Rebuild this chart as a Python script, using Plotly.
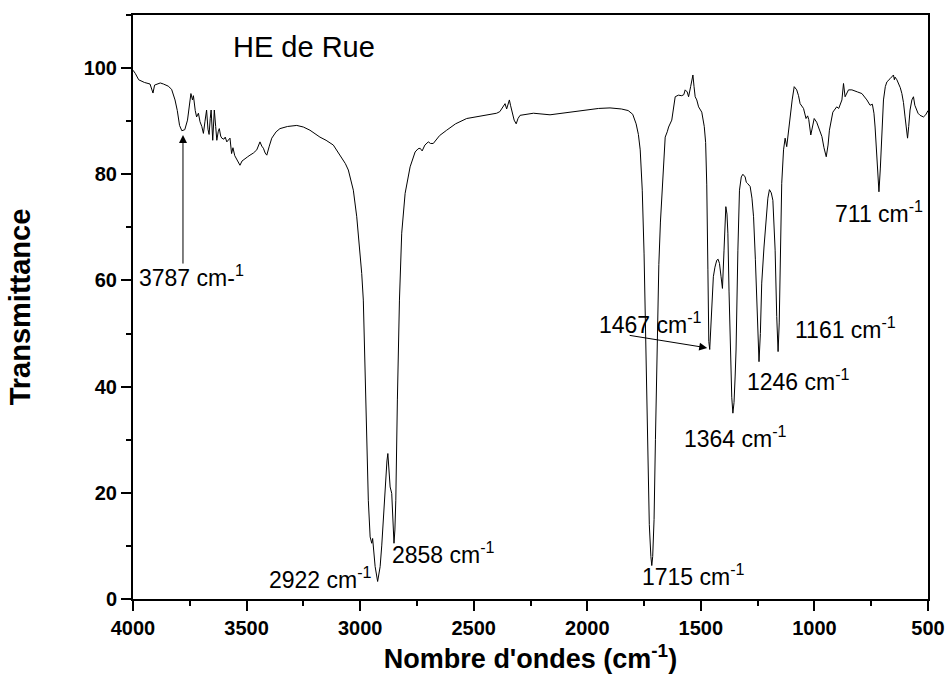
import plotly.graph_objects as go

# ---- data ----
wavenumber = [4000, 3990, 3975, 3950, 3925, 3912, 3905, 3880, 3866, 3845, 3830, 3815, 3805, 3795, 3785, 3772,
              3760, 3750, 3745, 3738, 3734, 3726, 3720, 3712, 3705, 3697, 3690, 3683, 3676, 3670, 3665, 3660,
              3656, 3649, 3642, 3636, 3631, 3625, 3620, 3614, 3609, 3600, 3594, 3587, 3580, 3573, 3566, 3560,
              3552, 3543, 3535, 3529, 3520, 3507, 3495, 3485, 3470, 3455, 3441, 3433, 3426, 3418, 3411, 3400,
              3389, 3370, 3353, 3320, 3279, 3250, 3221, 3177, 3150, 3118, 3089, 3065, 3052, 3040, 3030, 3015,
              3001, 2993, 2986, 2978, 2971, 2964, 2956, 2949, 2945, 2940, 2934, 2923, 2912, 2905, 2898, 2890,
              2882, 2878, 2872, 2868, 2861, 2856, 2851, 2847, 2843, 2836, 2827, 2817, 2802, 2780, 2758, 2745,
              2736, 2727, 2715, 2700, 2690, 2678, 2650, 2619, 2580, 2531, 2458, 2399, 2385, 2377, 2368, 2362,
              2355, 2348, 2343, 2338, 2332, 2322, 2313, 2305, 2296, 2237, 2164, 2100, 2000, 1950, 1900, 1850,
              1820, 1800, 1785, 1775, 1767, 1758, 1750, 1742, 1735, 1727, 1720, 1716, 1712, 1706, 1700, 1693,
              1685, 1678, 1672, 1665, 1657, 1648, 1642, 1628, 1613, 1599, 1584, 1575, 1569, 1560, 1554, 1545,
              1535, 1530, 1525, 1518, 1510, 1496, 1485, 1479, 1474, 1469, 1465, 1461, 1457, 1452, 1445, 1438,
              1430, 1424, 1418, 1411, 1405, 1398, 1390, 1385, 1381, 1376, 1371, 1364, 1359, 1354, 1349, 1345,
              1337, 1330, 1322, 1315, 1305, 1300, 1295, 1283, 1275, 1268, 1260, 1254, 1248, 1244, 1238, 1232,
              1222, 1213, 1205, 1198, 1190, 1183, 1178, 1173, 1166, 1160, 1155, 1151, 1144, 1136, 1129, 1122,
              1115, 1107, 1098, 1089, 1078, 1070, 1063, 1048, 1037, 1030, 1025, 1016, 1008, 1001, 990, 982,
              967, 958, 948, 940, 934, 919, 902, 893, 885, 879, 872, 865, 850, 835, 810, 791,
              769, 755, 745, 738, 733, 725, 716, 710, 707, 702, 696, 688, 681, 667, 660, 652,
              648, 645, 637, 630, 622, 615, 608, 601, 595, 590, 585, 579, 571, 564, 558, 553,
              544, 535, 520, 510, 503, 500]
transmittance = [99.6, 99.0, 97.8, 97.3, 97.0, 95.3, 96.8, 97.2, 97.0, 96.6, 96.0, 94.0, 92.0, 89.2, 88.2, 88.4,
                 90.2, 93.5, 95.2, 94.0, 94.8, 92.0, 90.8, 91.5, 89.9, 89.0, 87.7, 90.0, 92.1, 88.5, 87.5, 90.5,
                 92.1, 86.4, 92.1, 89.0, 86.4, 88.0, 88.6, 87.2, 86.8, 86.6, 87.0, 86.1, 86.5, 86.8, 83.9, 85.0,
                 83.5, 82.7, 82.0, 81.7, 82.5, 83.0, 83.3, 83.6, 84.0, 84.6, 86.1, 85.3, 84.9, 84.0, 83.6, 85.3,
                 86.8, 88.0, 88.6, 89.0, 89.2, 88.9, 88.3, 87.0, 86.4, 85.5, 83.6, 82.0, 80.8, 79.0, 77.0, 72.0,
                 65.7, 61.3, 56.3, 43.7, 31.2, 18.6, 11.7, 10.5, 11.4, 8.5, 6.1, 3.3, 6.1, 10.0, 15.5, 21.0,
                 26.0, 27.4, 24.0, 21.1, 19.9, 13.5, 10.5, 13.0, 18.6, 37.5, 56.3, 68.9, 76.4, 81.4, 84.2, 84.8,
                 84.9, 84.4, 85.5, 86.1, 85.8, 85.8, 87.3, 88.3, 89.5, 90.5, 91.1, 91.5, 91.8, 92.4, 93.0, 93.3,
                 92.3, 93.4, 94.0, 93.0, 91.8, 90.2, 89.5, 90.5, 91.1, 91.5, 91.2, 91.6, 92.2, 92.4, 92.5, 92.3,
                 92.0, 91.3, 89.5, 87.5, 84.6, 77.0, 65.0, 45.0, 28.0, 14.0, 8.0, 6.3, 8.0, 15.0, 30.0, 48.0,
                 63.0, 71.0, 75.1, 82.0, 87.0, 88.0, 88.9, 90.2, 94.6, 94.9, 94.8, 95.0, 95.9, 95.5, 94.6, 96.5,
                 98.7, 96.5, 94.6, 94.0, 92.7, 91.7, 89.0, 86.0, 78.0, 62.0, 48.5, 47.0, 50.0, 56.3, 60.7, 62.5,
                 63.8, 64.0, 63.2, 60.7, 58.5, 65.7, 73.9, 72.5, 68.9, 58.0, 46.9, 38.0, 35.0, 37.0, 42.0, 46.9,
                 65.7, 77.0, 79.5, 80.0, 79.5, 78.5, 78.3, 77.7, 75.5, 72.0, 64.0, 56.3, 48.0, 44.7, 50.0, 59.5,
                 66.3, 72.0, 75.5, 77.1, 76.5, 75.1, 71.0, 65.7, 53.2, 46.6, 52.0, 59.5, 78.3, 84.6, 86.8, 85.2,
                 88.0, 90.8, 94.0, 96.5, 95.9, 94.8, 93.3, 92.4, 90.5, 91.0, 90.3, 87.4, 89.5, 90.5, 89.8, 88.9,
                 87.1, 85.0, 83.3, 85.5, 88.3, 91.7, 92.7, 92.4, 93.5, 94.0, 97.1, 94.6, 95.9, 95.9, 95.5, 95.2,
                 94.0, 93.0, 93.2, 91.5, 88.9, 83.3, 76.7, 81.0, 84.6, 90.0, 94.0, 96.5, 97.4, 98.0, 98.3, 98.7,
                 97.8, 98.3, 97.8, 97.1, 96.3, 95.2, 93.5, 90.8, 88.5, 86.8, 89.0, 92.1, 94.0, 94.6, 93.0, 92.4,
                 91.5, 91.1, 90.8, 91.2, 91.7, 92.0]

x_ticks = [4000, 3500, 3000, 2500, 2000, 1500, 1000, 500]
y_ticks = [0, 20, 40, 60, 80, 100]

title_text = "HE de Rue"
peak_labels = ["3787 cm-<sup>1</sup>", "2922 cm<sup>-1</sup>", "2858 cm<sup>-1</sup>", "1715 cm<sup>-1</sup>",
               "1467 cm<sup>-1</sup>", "1364 cm<sup>-1</sup>", "1246 cm<sup>-1</sup>", "1161 cm<sup>-1</sup>",
               "711 cm<sup>-1</sup>"]
label_x = [3982, 2939, 2868, 1767, 1957, 1583, 1305, 1094, 918]
label_y = [60.8, 4.0, 8.7, 4.5, 52.0, 30.5, 41.2, 51.0, 72.9]
label_anchor = ["left", "right", "left", "left", "left", "left", "left", "left", "left"]

FONT = "Arial, 'Liberation Sans', sans-serif"

fig = go.Figure()
fig.add_trace(go.Scatter(x=wavenumber, y=transmittance, mode="lines",
                         line=dict(color="black", width=1), showlegend=False, hoverinfo="skip"))

annotations = []
annotations.append(dict(x=3245, y=104, xref="x", yref="y", text=title_text, showarrow=False,
                        font=dict(family=FONT, size=29, color="black"), xanchor="center", yanchor="middle"))
for t, lx, ly, anc in zip(peak_labels, label_x, label_y, label_anchor):
    annotations.append(dict(x=lx, y=ly, xref="x", yref="y", text=t, showarrow=False,
                            font=dict(family=FONT, size=23, color="black"), xanchor=anc, yanchor="middle"))
# arrows
annotations.append(dict(x=3780, y=87.4, xref="x", yref="y", ax=3780, ay=62.9, axref="x", ayref="y",
                        text="", showarrow=True, arrowhead=2, arrowsize=1.6, arrowwidth=1, arrowcolor="black"))
annotations.append(dict(x=1472, y=47.3, xref="x", yref="y", ax=1820, ay=49.7, axref="x", ayref="y",
                        text="", showarrow=True, arrowhead=2, arrowsize=1.6, arrowwidth=1, arrowcolor="black"))

fig.update_layout(
    width=949, height=693,
    margin=dict(l=133, r=21, t=15, b=94),
    paper_bgcolor="white", plot_bgcolor="white",
    annotations=annotations,
    font=dict(family=FONT, color="black"),
)
fig.update_xaxes(
    range=[4000, 500], tickvals=x_ticks, ticktext=[str(v) for v in x_ticks], automargin=False,
    showgrid=False, zeroline=False, showline=True, linecolor="black", linewidth=2, mirror=True,
    ticks="outside", ticklen=10, tickwidth=2, tickcolor="black",
    tickfont=dict(family=FONT, size=20, color="black", weight="bold"),
    minor=dict(dtick=250, tick0=500, ticks="outside", ticklen=5, tickwidth=2, tickcolor="black"),
    title=dict(text="<b>Nombre d'ondes (cm<sup>-1</sup>)</b>", font=dict(family=FONT, size=27, color="black"),
               standoff=11),
)
fig.update_yaxes(
    range=[0, 110], tickvals=y_ticks, ticktext=[str(v) for v in y_ticks], automargin=False,
    showgrid=False, zeroline=False, showline=True, linecolor="black", linewidth=2, mirror=True,
    ticks="outside", ticklen=10, tickwidth=2, tickcolor="black",
    tickfont=dict(family=FONT, size=20, color="black", weight="bold"),
    minor=dict(dtick=10, tick0=0, ticks="outside", ticklen=5, tickwidth=2, tickcolor="black"),
    title=dict(text="<b>Transmittance</b>", font=dict(family=FONT, size=29, color="black"), standoff=44),
)

fig.write_html("out.html", config={"displayModeBar": False},
               post_script="document.body.style.margin='0';document.body.style.overflow='hidden';")
